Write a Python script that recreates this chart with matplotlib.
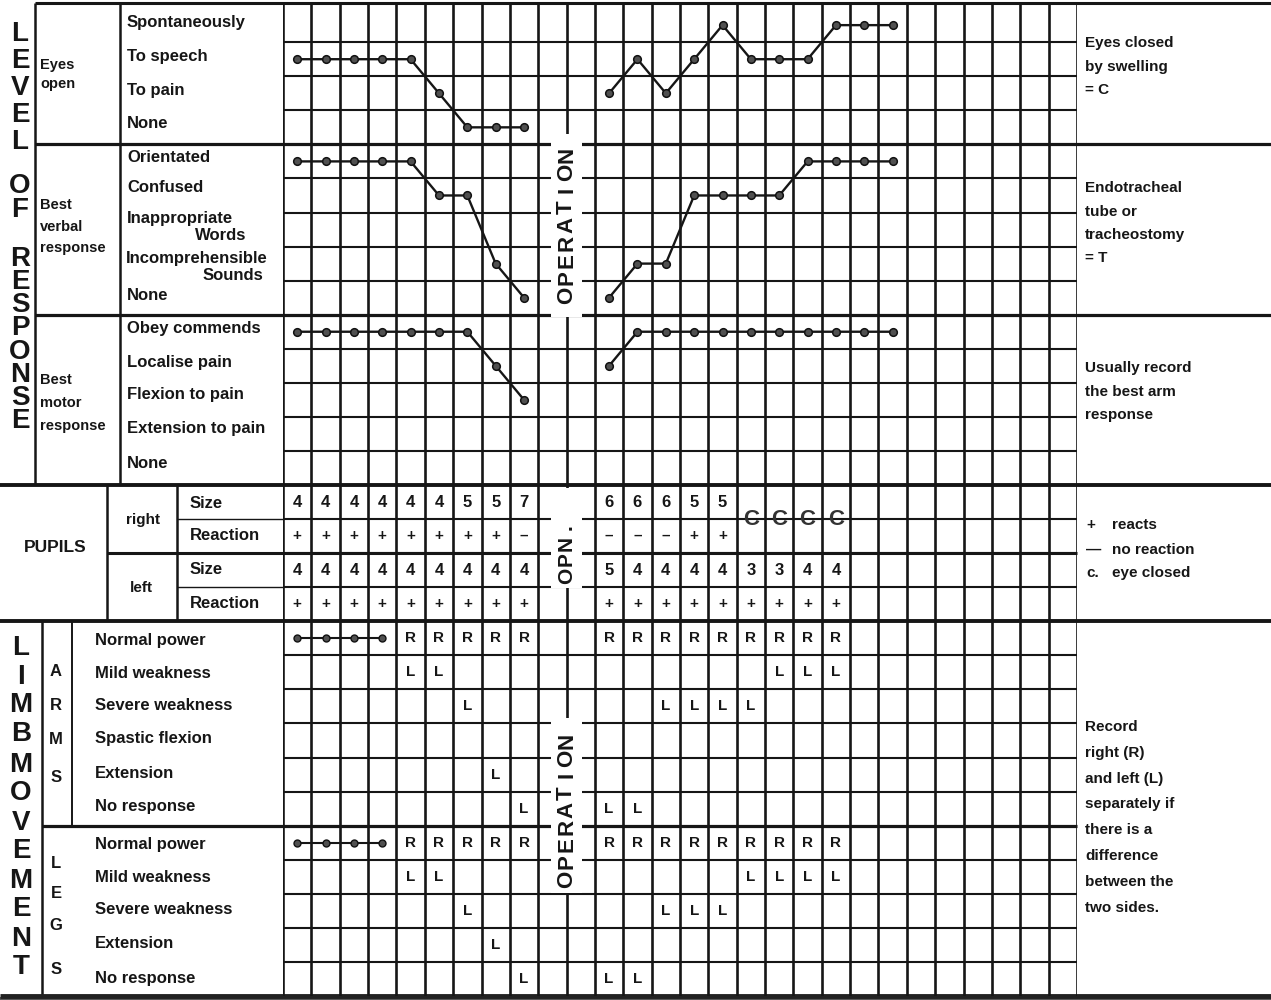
"""
Full de control neurologic (escala de Glasgow) abans i despres d'una operacio.
Tot es dibuixa en una sola figura: un eix de fons en pixels per a rotuls i
marcs, i un eix de graella (columnes x files) per a les observacions.
"""
import matplotlib
matplotlib.use("Agg")
import matplotlib.pyplot as plt
from matplotlib.patches import Rectangle
from matplotlib.transforms import blended_transform_factory

plt.rcParams["font.family"] = ["Liberation Sans", "DejaVu Sans"]

W, H = 1271, 1000
INK = "#161616"

# --- rotuls de les files ---
EYES_LABELS = ["Spontaneously", "To speech", "To pain", "None"]
VERBAL_LABELS = ["Orientated", "Confused", "Inappropriate", "Words",
                 "Incomprehensible", "Sounds", "None"]
MOTOR_LABELS = ["Obey commends", "Localise pain", "Flexion to pain",
                "Extension to pain", "None"]
ARMS_LABELS = ["Normal power", "Mild weakness", "Severe weakness",
               "Spastic flexion", "Extension", "No response"]
LEGS_LABELS = ["Normal power", "Mild weakness", "Severe weakness",
               "Extension", "No response"]

# --- columnes d'observacio ---
PRE_COLS = [0, 1, 2, 3, 4, 5, 6, 7, 8]
POST_COLS = [11, 12, 13, 14, 15, 16, 17, 18, 19, 20, 21]
POST_COLS_SHORT = [11, 12, 13, 14, 15, 16, 17, 18, 19]

# puntuacions (la fila de dalt de cada bloc = puntuacio mes alta)
EYES_PRE = [3, 3, 3, 3, 3, 2, 1, 1, 1]
EYES_POST = [2, 3, 2, 3, 4, 3, 3, 3, 4, 4, 4]
VERBAL_PRE = [5, 5, 5, 5, 5, 4, 4, 2, 1]
VERBAL_POST = [1, 2, 2, 4, 4, 4, 4, 5, 5, 5, 5]
MOTOR_PRE = [5, 5, 5, 5, 5, 5, 5, 4, 3]
MOTOR_POST = [4, 5, 5, 5, 5, 5, 5, 5, 5, 5, 5]

# pupil.les
R_SIZE_PRE = ["4", "4", "4", "4", "4", "4", "5", "5", "7"]
R_REACT_PRE = ["+", "+", "+", "+", "+", "+", "+", "+", "\u2013"]
L_SIZE_PRE = ["4", "4", "4", "4", "4", "4", "4", "4", "4"]
L_REACT_PRE = ["+", "+", "+", "+", "+", "+", "+", "+", "+"]
R_SIZE_POST = ["6", "6", "6", "5", "5", "", "", "", ""]
R_REACT_POST = ["\u2013", "\u2013", "\u2013", "+", "+", "", "", "", ""]
R_CLOSED_POST = ["", "", "", "", "", "C", "C", "C", "C"]
L_SIZE_POST = ["5", "4", "4", "4", "4", "3", "3", "4", "4"]
L_REACT_POST = ["+", "+", "+", "+", "+", "+", "+", "+", "+"]

# extremitats: index de fila dins del bloc (0 = normal power)
DOT_COLS = [0, 1, 2, 3]
LIMB_PRE_COLS = [4, 5, 6, 7, 8]
ARM_R_PRE = [0, 0, 0, 0, 0]
ARM_L_PRE = [1, 1, 2, 4, 5]
ARM_R_POST = [0, 0, 0, 0, 0, 0, 0, 0, 0]
ARM_L_POST = [5, 5, 2, 2, 2, 2, 1, 1, 1]
LEG_R_PRE = [0, 0, 0, 0, 0]
LEG_L_PRE = [1, 1, 2, 3, 4]
LEG_R_POST = [0, 0, 0, 0, 0, 0, 0, 0, 0]
LEG_L_POST = [4, 4, 2, 2, 2, 1, 1, 1, 1]

# blocs de files de la graella
EYES_R0, VERBAL_R0, MOTOR_R0 = 0, 4, 9
PUPIL_R0, ARMS_R0, LEGS_R0 = 14, 18, 24
N_ROWS, N_COLS, TOP_PAD = 29, 28, 0.15

GX0, GX1, GY0, GY1 = 283, 1077, 3, 996

fig = plt.figure(figsize=(W / 100, H / 100), dpi=100)
fig.patch.set_facecolor("white")
bg = fig.add_axes([0, 0, 1, 1])
bg.set_xlim(0, W)
bg.set_ylim(H, 0)
bg.axis("off")

gx = fig.add_axes([GX0 / W, 1 - GY1 / H, (GX1 - GX0) / W, (GY1 - GY0) / H])
gx.set_xlim(0, N_COLS)
gx.set_ylim(N_ROWS, -TOP_PAD)
gx.axis("off")
gx.patch.set_alpha(0)

# x en pixels, y en files de la graella
lab = blended_transform_factory(bg.transData, gx.transData)

# --- graella ---
gx.vlines(range(1, N_COLS + 1), -TOP_PAD, N_ROWS, color=INK, lw=1.9, zorder=1)
gx.vlines(0, -TOP_PAD, N_ROWS, color=INK, lw=2.6, zorder=1)
sections = [4, 9, 14, 18, 24]
inner = [r for r in range(1, N_ROWS) if r not in sections]
gx.hlines(inner, 0, N_COLS, color=INK, lw=1.5, zorder=1)

# linies de seccio (estan al fons, amb y en files)
bg.hlines(-TOP_PAD, 35, W, color=INK, lw=2.2, transform=lab)
bg.hlines([4, 9], 35, W, color=INK, lw=2.3, transform=lab)
bg.hlines([14, 18], 0, W, color=INK, lw=2.8, transform=lab)
bg.hlines(24, 42, GX1, color=INK, lw=2.3, transform=lab)
bg.hlines(16, 107, GX1, color=INK, lw=2.2, transform=lab)
bg.hlines([15, 17], 177, GX0, color=INK, lw=1.0, transform=lab)
bg.vlines([35, 120], -TOP_PAD, 14, color=INK, lw=1.8, transform=lab)
bg.vlines([107, 177], 14, 18, color=INK, lw=1.8, transform=lab)
bg.vlines(42, 18, N_ROWS, color=INK, lw=1.8, transform=lab)
bg.vlines(72, 18, 24, color=INK, lw=1.4, transform=lab)
bg.hlines(N_ROWS, 0, W, color="#222222", lw=3.5, transform=lab)
bg.add_patch(Rectangle((0, 997), W, 3, color="#5a5a5a", lw=0))

# espais en blanc al voltant del rotul OPERATION
for r0, r1 in [(3.7, 9.08), (14.1, 17.03), (20.85, 25.97)]:
    gx.add_patch(Rectangle((9.45, r0), 1.1, r1 - r0, facecolor="white",
                           edgecolor="none", zorder=2))


def spaced_vertical(word, row_c, step, size):
    n = len(word)
    for i, ch in enumerate(word):
        gx.text(10.0, row_c + ((n - 1) / 2 - i) * step, ch, rotation=90,
                ha="center", va="center", fontsize=size, fontweight="bold",
                color=INK, zorder=3)


spaced_vertical("OPERATION", 6.37, 0.516, 16)
spaced_vertical("OPERATION", 23.54, 0.508, 16)
spaced_vertical("OPN.", 15.95, 0.47, 15)

# --- escala de Glasgow ---
line_kw = dict(color=INK, lw=1.7, marker="o", ms=5.5, mfc="#505050",
               mec="#111111", mew=1.1, zorder=5)


def gcs(cols, scores, row0, n):
    gx.plot([c + 0.5 for c in cols], [row0 + n - s + 0.5 for s in scores], **line_kw)


gcs(PRE_COLS, EYES_PRE, EYES_R0, 4)
gcs(POST_COLS, EYES_POST, EYES_R0, 4)
gcs(PRE_COLS, VERBAL_PRE, VERBAL_R0, 5)
gcs(POST_COLS, VERBAL_POST, VERBAL_R0, 5)
gcs(PRE_COLS, MOTOR_PRE, MOTOR_R0, 5)
gcs(POST_COLS, MOTOR_POST, MOTOR_R0, 5)

# --- pupil.les ---
cell_kw = dict(ha="center", va="center", fontweight="bold", color=INK, zorder=3)
for cols, vals, row, fs in [
    (PRE_COLS, R_SIZE_PRE, PUPIL_R0, 12), (PRE_COLS, R_REACT_PRE, PUPIL_R0 + 1, 11),
    (PRE_COLS, L_SIZE_PRE, PUPIL_R0 + 2, 12), (PRE_COLS, L_REACT_PRE, PUPIL_R0 + 3, 11),
    (POST_COLS_SHORT, R_SIZE_POST, PUPIL_R0, 12), (POST_COLS_SHORT, R_REACT_POST, PUPIL_R0 + 1, 11),
    (POST_COLS_SHORT, L_SIZE_POST, PUPIL_R0 + 2, 12), (POST_COLS_SHORT, L_REACT_POST, PUPIL_R0 + 3, 11),
]:
    for c, v in zip(cols, vals):
        if v:
            gx.text(c + 0.5, row + 0.5, v, fontsize=fs, **cell_kw)
for c, v in zip(POST_COLS_SHORT, R_CLOSED_POST):
    if v:
        gx.text(c + 0.5, PUPIL_R0 + 1.0, v, fontsize=16, ha="center", va="center",
                fontweight="bold", color="#333333", zorder=3)

# --- extremitats ---
for row0 in (ARMS_R0, LEGS_R0):
    gx.plot([c + 0.5 for c in DOT_COLS], [row0 + 0.5] * len(DOT_COLS),
            color=INK, lw=1.5, marker="o", ms=5, mfc="#505050", mec="#111111", zorder=5)

for cols, rvals, lvals, row0 in [
    (LIMB_PRE_COLS, ARM_R_PRE, ARM_L_PRE, ARMS_R0),
    (POST_COLS_SHORT, ARM_R_POST, ARM_L_POST, ARMS_R0),
    (LIMB_PRE_COLS, LEG_R_PRE, LEG_L_PRE, LEGS_R0),
    (POST_COLS_SHORT, LEG_R_POST, LEG_L_POST, LEGS_R0),
]:
    for c, rv, lv in zip(cols, rvals, lvals):
        gx.text(c + 0.5, row0 + rv + 0.5, "R", fontsize=11, **cell_kw)
        gx.text(c + 0.5, row0 + lv + 0.5, "L", fontsize=11, **cell_kw)

# --- rotuls de l'esquerra ---
txt = dict(fontweight="bold", color=INK, va="center")
# lletres grans apilades: un sol text per paraula
for word, x, yc, ls in [("LEVEL", 20, 88, 1.05), ("OF", 20, 198, 0.86),
                        ("RESPONSE", 20, 340, 0.86), ("LIMB", 21, 691, 1.12),
                        ("MOVEMENT", 21, 866, 1.15)]:
    bg.text(x, yc, "\n".join(word), fontsize=20, fontweight="bold", color=INK,
            ha="center", va="center", multialignment="center", linespacing=ls)

for s, y in zip(EYES_LABELS, [22, 56, 90, 124]):
    bg.text(127, y, s, fontsize=12, **txt)
verbal_pos = [(127, 158, "left"), (127, 188, "left"), (127, 218, "left"),
              (246, 235, "right"), (126, 258, "left"), (263, 275, "right"),
              (127, 296, "left")]
for s, (x, y, ha) in zip(VERBAL_LABELS, verbal_pos):
    bg.text(x, y, s, fontsize=12, ha=ha, **txt)
for s, y in zip(MOTOR_LABELS, [329, 362, 395, 428, 463]):
    bg.text(127, y, s, fontsize=12, **txt)

for s, y in [("Eyes", 65), ("open", 84), ("Best", 205), ("verbal", 227),
             ("response", 248), ("Best", 380), ("motor", 403), ("response", 426)]:
    bg.text(40, y, s, fontsize=10.5, **txt)

bg.text(55, 548, "PUPILS", fontsize=12.5, ha="center", **txt)
bg.text(143, 520, "right", fontsize=11, ha="center", **txt)
bg.text(141, 588, "left", fontsize=11, ha="center", **txt)
for s, y in [("Size", 504), ("Reaction", 535), ("Size", 570), ("Reaction", 603)]:
    bg.text(190, y, s, fontsize=12, **txt)

for s, y in zip(ARMS_LABELS, [640, 673, 706, 739, 774, 807]):
    bg.text(95, y, s, fontsize=12, **txt)
for s, y in zip(LEGS_LABELS, [844, 877, 910, 943, 978]):
    bg.text(95, y, s, fontsize=12, **txt)
for ch, y in zip("ARMS", [672, 705, 739, 777]):
    bg.text(56, y, ch, fontsize=12, ha="center", **txt)
for ch, y in zip("LEGS", [863, 894, 925, 969]):
    bg.text(56, y, ch, fontsize=12, ha="center", **txt)

# --- notes de la dreta ---
notes = [
    (["Eyes closed", "by swelling", "= C"], 43),
    (["Endotracheal", "tube or", "tracheostomy", "= T"], 188),
    (["Usually record", "the best arm", "response"], 368),
    (["Record", "right (R)", "and left (L)", "separately if", "there is a",
      "difference", "between the", "two sides."], 727),
]
for lines, y0 in notes:
    step = 25.8 if len(lines) > 4 else 23.5
    for i, s in enumerate(lines):
        bg.text(1085, y0 + i * step, s, fontsize=11, **txt)
for sym, s, y in [("+", "reacts", 525), ("\u2014", "no reaction", 550), ("c.", "eye closed", 573)]:
    bg.text(1086, y, sym, fontsize=11, **txt)
    bg.text(1112, y, s, fontsize=11, **txt)

fig.savefig("out.png", dpi=100, facecolor="white")
